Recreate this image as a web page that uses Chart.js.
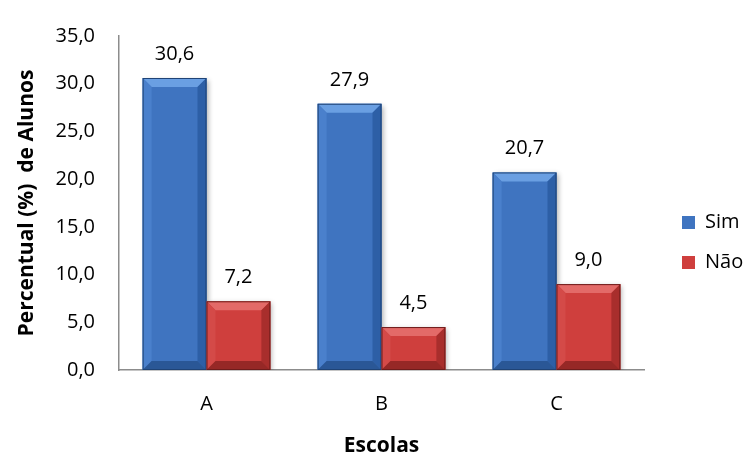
<!DOCTYPE html>
<html>
<head>
<meta charset="utf-8">
<script src="https://cdn.jsdelivr.net/npm/chart.js@4/dist/chart.umd.min.js"></script>
<style>
  body { margin: 0; background: #fff; }
  #wrap { width: 750px; height: 459px; }
</style>
</head>
<body>
<div id="wrap"><canvas id="chart"></canvas></div>
<script>
const categories = ["A", "B", "C"];
const simValues = [30.6, 27.9, 20.7];
const naoValues = [7.2, 4.5, 9.0];
const seriesNames = ["Sim", "Não"];
const yMin = 0, yMax = 35, yStep = 5;

const FONT = "'Open Sans'";

function fmt(v) {
    return Number(v).toFixed(1).replace(".", ",");
}

// bevel colours per dataset: top, left, right, bottom, outline
const bevels = [
    { top: "#6a9fe2", left: "#4a80cc", right: "#2d5fa6", bottom: "#2a5796", line: "#1f4375" },
    { top: "#e36a68", left: "#d44a48", right: "#a82e2c", bottom: "#962826", line: "#6e1c1b" }
];

// legend box is wider than its items; the items sit further right and lower
const legendWidth = 106, legendShiftX = 18, legendShiftY = 24;

const barStyle = {
    id: "barStyle",
    beforeLayout(chart) {
        let lg = chart.legend;
        if (lg && !lg._wrapped) {
            let fit = lg.fit;
            lg.fit = function() {
                fit.call(this);
                this.width = legendWidth;
            };
            lg._wrapped = true;
        }
    },
    afterLayout(chart) {
        let lg = chart.legend;
        if (lg) {
            lg.left += legendShiftX;
            lg.top += legendShiftY;
        }
    },
    beforeDatasetsDraw(chart) {
        let ctx = chart.ctx;
        ctx.save();
        ctx.shadowColor = "rgba(0,0,0,0.3)";
        ctx.shadowBlur = 5;
        ctx.shadowOffsetX = 2;
        ctx.shadowOffsetY = 2;
    },
    afterDatasetsDraw(chart) {
        let ctx = chart.ctx;
        ctx.restore();
        chart.getSortedVisibleDatasetMetas().forEach(meta => {
            let c = bevels[meta.index];
            let ds = chart.data.datasets[meta.index];
            meta.data.forEach((bar, i) => {
                let p = bar.getProps(["x", "y", "base", "width"], true);
                let l = p.x - p.width / 2, r = p.x + p.width / 2;
                let t = p.y, b = p.base;
                let bv = Math.min(9, (b - t) / 2);
                let poly = (pts, col) => {
                    ctx.beginPath();
                    ctx.moveTo(pts[0][0], pts[0][1]);
                    for (let k = 1; k < pts.length; k++) ctx.lineTo(pts[k][0], pts[k][1]);
                    ctx.closePath();
                    ctx.fillStyle = col;
                    ctx.fill();
                };
                poly([[l, t], [r, t], [r - bv, t + bv], [l + bv, t + bv]], c.top);
                poly([[l, t], [l + bv, t + bv], [l + bv, b - bv], [l, b]], c.left);
                poly([[r, t], [r, b], [r - bv, b - bv], [r - bv, t + bv]], c.right);
                poly([[l, b], [l + bv, b - bv], [r - bv, b - bv], [r, b]], c.bottom);
                ctx.strokeStyle = c.line;
                ctx.lineWidth = 1;
                ctx.strokeRect(l + 0.5, t + 0.5, p.width - 1, b - t - 1);

                ctx.fillStyle = "#000";
                ctx.font = "20px " + FONT;
                ctx.textAlign = "center";
                ctx.textBaseline = "alphabetic";
                ctx.fillText(fmt(ds.data[i]), p.x, t - 18);
            });
        });
    }
};

new Chart(document.getElementById("chart"), {
    type: "bar",
    data: {
        labels: categories,
        datasets: [
            { label: seriesNames[0], data: simValues, backgroundColor: "#3f74c0", borderColor: "#1f4375", borderWidth: 0 },
            { label: seriesNames[1], data: naoValues, backgroundColor: "#cf3f3d", borderColor: "#6e1c1b", borderWidth: 0 }
        ]
    },
    options: {
        responsive: true,
        maintainAspectRatio: false,
        animation: false,
        layout: { padding: { top: 2, right: 0, left: 0, bottom: 0 } },
        datasets: { bar: { categoryPercentage: 0.73, barPercentage: 1 } },
        plugins: {
            tooltip: { enabled: false },
            legend: {
                position: "right",
                labels: {
                    boxWidth: 13,
                    boxHeight: 13,
                    padding: 20,
                    color: "#000",
                    font: { family: FONT, size: 20 }
                }
            }
        },
        scales: {
            x: {
                grid: { display: false, drawTicks: false },
                border: { color: "#8c8c8c", width: 1.5 },
                ticks: { color: "#000", padding: 22, font: { family: FONT, size: 20 } },
                title: {
                    display: true,
                    text: "Escolas",
                    color: "#000",
                    font: { family: FONT, size: 21, weight: "bold" },
                    padding: { top: 10, bottom: 0 }
                },
                afterFit(scale) { scale.height = 89; }
            },
            y: {
                min: yMin,
                max: yMax,
                grid: { display: false, drawTicks: false },
                border: { color: "#8c8c8c", width: 1.5 },
                ticks: {
                    stepSize: yStep,
                    color: "#000",
                    padding: 24,
                    font: { family: FONT, size: 20 },
                    callback: v => fmt(v)
                },
                title: {
                    display: true,
                    text: "Percentual (%)  de Alunos",
                    color: "#000",
                    font: { family: FONT, size: 21, weight: "bold" },
                    padding: { top: 14, bottom: 0 }
                },
                afterFit(scale) { scale.width = 119; }
            }
        }
    },
    plugins: [barStyle]
});
</script>
</body>
</html>
